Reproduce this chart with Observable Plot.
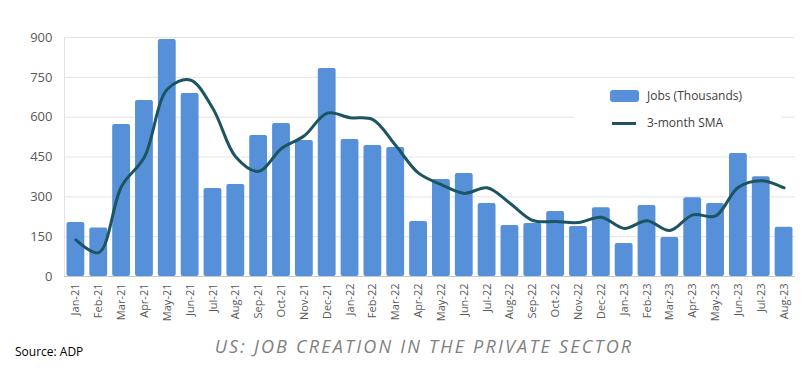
<!DOCTYPE html>
<html><head><meta charset="utf-8">
<script src="https://cdn.jsdelivr.net/npm/d3@7"></script>
<script src="https://cdn.jsdelivr.net/npm/@observablehq/plot@0.6"></script>
<style>
body{margin:0;background:#fff;font-family:"Open Sans",sans-serif;}
#wrap{position:relative;width:810px;height:376px;overflow:hidden;background:#fff}
#legend{position:absolute;left:575px;top:82px;width:206px;height:58px;background:#fff}
.li{position:absolute;left:35px;font-size:12px;color:#404040;white-space:nowrap}
.sw{position:absolute;left:-37px}
#source{position:absolute;left:15px;top:343px;font-size:12px;color:#000}
#title{position:absolute;left:0;width:848px;text-align:center;top:334px;font-size:18px;font-style:italic;letter-spacing:2.2px;color:#7f7f7f}
</style></head><body><div id="wrap"><div id="chart"></div>
<div id="legend">
 <div class="li" style="left:72px;top:5px"><span class="sw" style="top:3px;width:29px;height:12px;background:#5590D8;border-radius:3px;left:-37px"></span>Jobs (Thousands)</div>
 <div class="li" style="left:72px;top:32px"><span class="sw" style="top:8px;width:24px;height:3px;background:#1C5461;left:-35px"></span>3-month SMA</div>
</div>
<div id="source">Source: ADP</div>
<div id="title">US: JOB CREATION IN THE PRIVATE SECTOR</div>
</div>
<script>
const months = ["Jan-21","Feb-21","Mar-21","Apr-21","May-21","Jun-21","Jul-21","Aug-21","Sep-21","Oct-21","Nov-21","Dec-21",
  "Jan-22","Feb-22","Mar-22","Apr-22","May-22","Jun-22","Jul-22","Aug-22","Sep-22","Oct-22","Nov-22","Dec-22",
  "Jan-23","Feb-23","Mar-23","Apr-23","May-23","Jun-23","Jul-23","Aug-23"];
const jobs = [203,183,572,663,892,689,331,346,531,576,512,783,
  516,493,486,207,365,388,275,192,200,245,188,259,
  124,267,147,297,275,463,376,185];
const sma = [138,90,340,450,705,740,632,450,396,482,530,615,
  598,591,493,389,346,313,334,276,211,207,203,223,
  181,210,173,232,228,336,361,334];
const yTicks = [0,150,300,450,600,750,900];
const data = months.map((m,i)=>({month:m, jobs:jobs[i], sma:sma[i]}));
const chart = Plot.plot({
  width:810, height:330, marginTop:37, marginBottom:54, marginLeft:64, marginRight:15,
  style:{fontFamily:"Open Sans", background:"white", overflow:"visible"},
  x:{domain:months, paddingInner:0.22, paddingOuter:0.11, round:false, label:null},
  y:{domain:[0,900], label:null},
  marks:[
    Plot.gridY(yTicks, {stroke:"#e3e3e3", strokeOpacity:1}),
    Plot.frame({anchor:"left", stroke:"#e3e3e3"}),
    Plot.barY(data, {x:"month", y:"jobs", fill:"#5590D8", rx:2}),
    Plot.ruleY([0], {stroke:"#c8c8c8"}),
    Plot.line(data, {x:"month", y:"sma", stroke:"#1C5461", strokeWidth:3, curve:"catmull-rom"}),
    Plot.axisY(yTicks, {tickSize:0, tickPadding:12, fontSize:13, fill:"#595959", label:null}),
    Plot.axisX({tickSize:0, tickPadding:7, tickRotate:-90, fontSize:11, fill:"#595959", label:null})
  ]
});
document.getElementById("chart").appendChild(chart);
</script></body></html>
